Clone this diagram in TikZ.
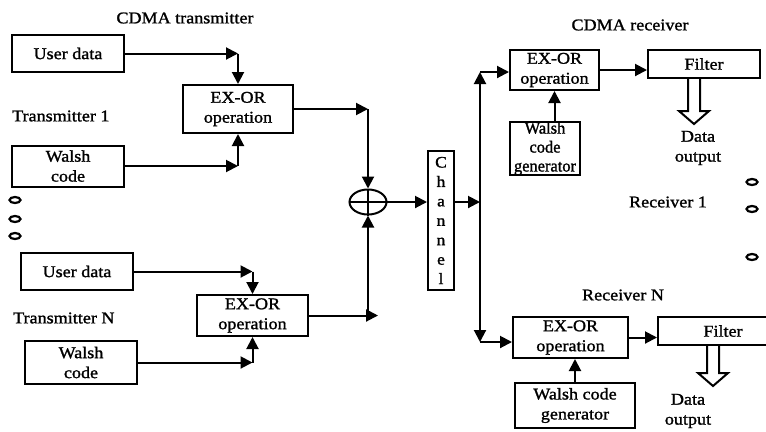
\documentclass[tikz,border=0pt]{standalone}
\usepackage{fontspec}
\setmainfont{Liberation Serif}[FakeBold=1.3, FakeStretch=1.1]
\newfontfamily\narrowfont{Liberation Serif}[FakeBold=1.3, FakeStretch=0.97]
\usetikzlibrary{arrows.meta,positioning,calc,shapes.geometric}

\tikzset{
  blk/.style={draw, line width=2bp, align=center, inner sep=0pt},
  arr/.style={-{Triangle[length=12bp,width=12bp]}, line width=2bp},
  txt/.style={align=center, inner sep=0pt},
  gapdot/.style={draw, ellipse, line width=2.2bp, minimum width=11bp, minimum height=6bp, inner sep=0pt},
}
% hollow output arrow pointing down from #1, #2 long
\newcommand{\hollowdown}[2]{%
  \draw[line width=2bp, fill=white, line join=miter]
    ($(#1)+(-6,0)$) -- ($(#1)+(-6,#2-13)$) -- ($(#1)+(-15,#2-13)$) -- ($(#1)+(0,#2)$)
    -- ($(#1)+(15,#2-13)$) -- ($(#1)+(6,#2-13)$) -- ($(#1)+(6,0)$);
}

\begin{document}
\begin{tikzpicture}[x=1bp, y=-1bp, every node/.style={font=\fontsize{16.5}{20}\selectfont}]
  \useasboundingbox (0,0) rectangle (766,431);

  % transmitter 1
  \node[txt] (thead) at (185,18) {CDMA transmitter};
  \node[blk, minimum width=112bp, minimum height=37bp] (ud1) at (68,53.5) {User data};
  \node[txt, anchor=west] (tx1) at (12,116) {Transmitter 1};
  \node[blk, minimum width=110bp, minimum height=48bp] (xo1) at (238,109) {EX-OR\\operation};
  \node[blk, minimum width=112bp, minimum height=41bp] (wc1) at (68,166) {Walsh\\code};
  \draw[arr] (ud1.east) -- (ud1.east -| xo1.north);
  \draw[arr] (ud1.east -| xo1.north) -- (xo1.north);
  \draw[arr] (wc1.east) -- (wc1.east -| xo1.south);
  \draw[arr] (wc1.east -| xo1.south) -- (xo1.south);

  % more users
  \foreach \y in {200,219,236}
    \node[gapdot] (ldot\y) at (15,\y) {};

  % transmitter N
  \node[blk, minimum width=112bp, minimum height=37bp] (udN) at (77,271.5) {User data};
  \node[txt, anchor=west] (txN) at (13,318) {Transmitter N};
  \node[blk, minimum width=111bp, minimum height=41bp] (xoN) at (252.5,315.5) {EX-OR\\operation};
  \node[blk, minimum width=112bp, minimum height=43bp] (wcN) at (81,362.5) {Walsh\\code};
  \draw[arr] (udN.east) -- (udN.east -| xoN.north);
  \draw[arr] (udN.east -| xoN.north) -- (xoN.north);
  \draw[arr] (wcN.east) -- (wcN.east -| xoN.south);
  \draw[arr] (wcN.east -| xoN.south) -- (xoN.south);

  % adder and channel
  \node[draw, ellipse, line width=2bp, minimum width=37bp, minimum height=25bp, inner sep=0pt] (add) at (368,202) {};
  \draw[line width=2bp] (add.west) -- (add.east) (add.north) -- (add.south);
  \draw[arr] (xo1.east) -- (xo1.east -| add.north);
  \draw[arr] (xo1.east -| add.north) -- (add.north);
  \draw[arr] (xoN.east) -- ([xshift=10bp]xoN.east -| add.south);
  \draw[arr] (xoN.east -| add.south) -- (add.south);
  \node[blk, minimum width=26bp, minimum height=139bp, font=\fontsize{16}{19.5}\selectfont] (chan) at (441,220.5) {C\\h\\a\\n\\n\\e\\l};
  \draw[arr] (add.east) -- (add.east -| chan.west);

  \coordinate (split) at (480,202);
  \coordinate (btop) at (480,72);
  \coordinate (bbot) at (480,342);
  \draw[arr] (add.east -| chan.east) -- (split);

  % receiver 1
  \node[txt] (rhead) at (630,25) {CDMA receiver};
  \node[blk, minimum width=89bp, minimum height=40bp] (rx1) at (554.5,70) {EX-OR\\operation};
  \node[blk, minimum width=112bp, minimum height=28bp] (flt1) at (704,64) {Filter};
  \node[blk, minimum width=70bp, minimum height=53bp, font=\narrowfont\fontsize{17}{19}\selectfont] (wg1) at (545,148.5) {Walsh\\code\\generator};
  \node[txt] (do1) at (698,148) {Data\\output};
  \node[txt] (rl1) at (668,202) {Receiver 1};
  \draw[arr] (split) -- (btop);
  \draw[arr] (btop) -- (btop -| rx1.west);
  \draw[arr] (rx1.east) -- (rx1.east -| flt1.west);
  \draw[arr] (rx1.south |- wg1.north) -- (rx1.south);
  \coordinate (out1) at ([xshift=-10bp]flt1.south);
  \hollowdown{out1}{45}

  \foreach \y in {182,209,257}
    \node[gapdot] (rdot\y) at (752,\y) {};

  % receiver N
  \node[txt] (rlN) at (623,295) {Receiver N};
  \node[blk, minimum width=115bp, minimum height=41bp] (rxN) at (570.5,337.5) {EX-OR\\operation};
  \node[blk, minimum width=130bp, minimum height=28bp] (fltN) at (723,331) {Filter};
  \node[blk, minimum width=120bp, minimum height=45bp] (wgN) at (575,405.5) {Walsh code\\generator};
  \node[txt] (doN) at (688,411) {Data\\output};
  \draw[arr] (split) -- (bbot);
  \draw[arr] (bbot) -- (bbot -| rxN.west);
  \draw[arr] (rxN.east) -- (rxN.east -| fltN.west);
  \draw[arr] (wgN.north) -- (wgN.north |- rxN.south);
  \coordinate (outN) at ([xshift=-10bp]fltN.south);
  \hollowdown{outN}{40}
\end{tikzpicture}
\end{document}
